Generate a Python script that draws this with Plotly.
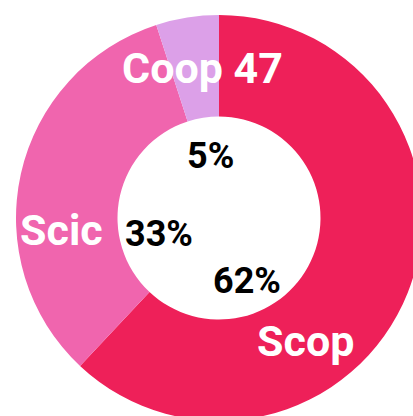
import plotly.graph_objects as go

# data
labels = ["Scop", "Scic", "Coop 47"]
values = [62, 33, 5]
colors = ["#EE2059", "#F065AE", "#DCA0E8"]

total = sum(values)
percents = [f"{round(v / total * 100)}%" for v in values]

# canvas is a bit bigger than the window so the ring runs off the edges
W, H = 440, 440
cx, cy, r = 219, 218, 203


def px(x, y):
    return x / W, 1 - y / H


fig = go.Figure(
    go.Pie(
        labels=labels,
        values=values,
        marker=dict(colors=colors, line=dict(width=0)),
        hole=0.5,
        sort=False,
        direction="clockwise",
        rotation=0,
        textinfo="none",
        hoverinfo="label+percent",
        showlegend=False,
        domain=dict(x=[(cx - r) / W, (cx + r) / W], y=[1 - (cy + r) / H, 1 - (cy - r) / H]),
    )
)

label_font = dict(family="Roboto", size=43, color="white", weight="bold")
pct_font = dict(family="Roboto", size=36, color="black", weight="bold")

# label positions (px) for each slice: name in the ring, percent in the hole
name_pos = [(305, 341), (62, 230), (202, 68)]
pct_pos = [(247, 281), (159, 234), (210, 156)]

for lab, (x, y) in zip(labels, name_pos):
    ax, ay = px(x, y)
    fig.add_annotation(x=ax, y=ay, xref="paper", yref="paper", text=lab,
                       xanchor="center", yanchor="middle",
                       showarrow=False, font=label_font)
for pct, (x, y) in zip(percents, pct_pos):
    ax, ay = px(x, y)
    fig.add_annotation(x=ax, y=ay, xref="paper", yref="paper", text=pct,
                       xanchor="center", yanchor="middle",
                       showarrow=False, font=pct_font)

fig.update_layout(
    width=W,
    height=H,
    autosize=False,
    margin=dict(l=0, r=0, t=0, b=0),
    paper_bgcolor="white",
    plot_bgcolor="white",
)

fig.write_html(
    "out.html",
    config={"displayModeBar": False},
    post_script="document.body.style.margin='0';document.body.style.overflow='hidden';",
)
